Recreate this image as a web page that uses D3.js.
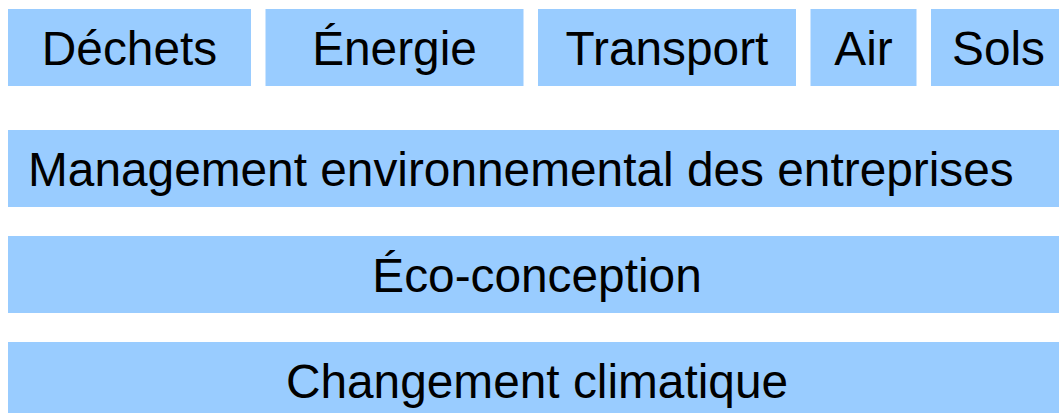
<!DOCTYPE html>
<html>
<head>
<meta charset="utf-8">
<script src="https://cdn.jsdelivr.net/npm/d3@7"></script>
<style>
    html, body { margin: 0; padding: 0; background: #fff; }
    svg { display: block; }
</style>
</head>
<body>
<div id="chart"></div>
<script>
// top row themes and their relative widths
const topThemes = ['Déchets', 'Énergie', 'Transport', 'Air', 'Sols'];
const topWidths = [243, 258, 258, 106, 135];

// full-width layers below
const layers = ['Management environnemental des entreprises', 'Éco-conception', 'Changement climatique'];
const layerAlign = ['start', 'middle', 'middle'];

const width = 1059;
const height = 413;
const fill = '#99ccff';
const fontSize = 47.8;
const gap = 14.5;
const left = 8, right = 1066;

const svg = d3.select('#chart')
    .append('svg')
    .attr('width', width)
    .attr('height', height);

// horizontal scale for the top row: units of width, gaps removed from the pixel range
const totalUnits = d3.sum(topWidths);
const xTop = d3.scaleLinear()
    .domain([0, totalUnits])
    .range([left, right - gap * (topThemes.length - 1)]);

const offsets = topWidths.map((w, i) => d3.sum(topWidths.slice(0, i)));

const topRow = { y: 9, h: 77 };

const topG = svg.append('g');
topThemes.forEach((name, i) => {
    const x0 = xTop(offsets[i]) + gap * i;
    const x1 = xTop(offsets[i] + topWidths[i]) + gap * i;
    topG.append('rect')
        .attr('x', x0)
        .attr('y', topRow.y)
        .attr('width', x1 - x0)
        .attr('height', topRow.h)
        .attr('fill', fill);
    topG.append('text')
        .attr('x', (x0 + x1) / 2)
        .attr('y', topRow.y + topRow.h / 2)
        .attr('dy', '0.37em')
        .attr('text-anchor', 'middle')
        .style('font-family', '"Liberation Sans", Arial, sans-serif')
        .style('font-size', fontSize + 'px')
        .text(name);
});

// vertical band scale for the layers
const yLayer = d3.scaleBand()
    .domain(layers)
    .range([130, 130 + 106 * layers.length - 29])
    .paddingInner(29 / 106)
    .paddingOuter(0);

const layerG = svg.append('g');
layers.forEach((name, i) => {
    const y = yLayer(name);
    layerG.append('rect')
        .attr('x', left)
        .attr('y', y)
        .attr('width', right - left)
        .attr('height', yLayer.bandwidth())
        .attr('fill', fill);
    layerG.append('text')
        .attr('x', layerAlign[i] === 'start' ? left + 20 : (left + right) / 2)
        .attr('y', y + yLayer.bandwidth() / 2)
        .attr('dy', '0.37em')
        .attr('text-anchor', layerAlign[i])
        .style('font-family', '"Liberation Sans", Arial, sans-serif')
        .style('font-size', fontSize + 'px')
        .text(name);
});
</script>
</body>
</html>
